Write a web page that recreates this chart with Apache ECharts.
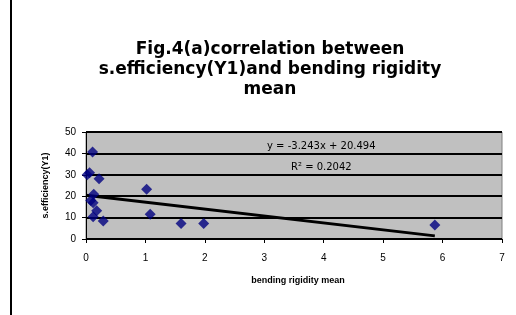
<!DOCTYPE html>
<html lang="en">
<head>
  <meta charset="UTF-8">
  <title>Fig.4(a)</title>
  <script src="https://cdn.jsdelivr.net/npm/echarts@6/dist/echarts.min.js"></script>
  <style>
    html, body { margin: 0; padding: 0; background: #fff; }
    #chart { width: 516px; height: 315px; }
  </style>
</head>
<body>
  <div id="chart"></div>
<script>
  // bending rigidity mean (x) vs s.efficiency(Y1) (y)
  var rigidity = [0.11, 0.02, 0.06, 0.22, 0.13, 0.08, 0.12, 0.18, 0.12, 0.29, 1.02, 1.08, 1.60, 1.98, 5.87]
  var efficiency = [40.6, 30.0, 31.0, 28.2, 20.9, 18.0, 16.9, 13.2, 10.4, 8.4, 23.3, 11.6, 7.3, 7.3, 6.5]
  var xTicks = [0, 1, 2, 3, 4, 5, 6, 7]
  var yTicks = [0, 10, 20, 30, 40, 50]
  // linear trendline from the chart
  var slope = -3.243
  var intercept = 20.494

  var points = rigidity.map(function (x, i) { return [x, efficiency[i]] })
  var xMax = Math.max.apply(null, rigidity)
  var trend = [[0, intercept], [xMax, slope * xMax + intercept]]

  var chart = echarts.init(document.getElementById('chart'))
  chart.setOption({
    animation: false,
    backgroundColor: '#fff',
    title: {
      text: 'Fig.4(a)correlation between\ns.efficiency(Y1)and bending rigidity\nmean',
      left: 265,
      top: 35,
      textAlign: 'center',
      textStyle: {
        fontFamily: 'DejaVu Sans',
        fontWeight: 'bold',
        fontSize: 17,
        lineHeight: 20,
        color: '#000'
      }
    },
    grid: { left: 86, right: 14, top: 132, bottom: 76, show: true, backgroundColor: '#c0c0c0', borderColor: '#808080', borderWidth: 1 },
    xAxis: {
      type: 'value',
      min: xTicks[0],
      max: xTicks[xTicks.length - 1],
      interval: 1,
      name: 'bending rigidity mean',
      nameLocation: 'middle',
      nameGap: 37,
      nameTextStyle: { fontFamily: 'Liberation Sans, Arial', fontWeight: 'bold', fontSize: 9, color: '#000', padding: [0, 0, 0, 8] },
      axisLine: { onZero: false, lineStyle: { color: '#000', width: 1 } },
      axisTick: { show: true, length: 4, inside: false, lineStyle: { color: '#000' } },
      axisLabel: { fontFamily: 'Liberation Sans, Arial', fontSize: 10, color: '#000', margin: 14 },
      splitLine: { show: false }
    },
    yAxis: {
      type: 'value',
      min: yTicks[0],
      max: yTicks[yTicks.length - 1],
      interval: 10,
      name: 's.efficiency(Y1)',
      nameLocation: 'middle',
      nameGap: 36,
      nameTextStyle: { fontFamily: 'Liberation Sans, Arial', fontWeight: 'bold', fontSize: 9, color: '#000' },
      axisLine: { show: true, lineStyle: { color: '#000', width: 1 } },
      axisTick: { show: true, length: 4, lineStyle: { color: '#000' } },
      axisLabel: { fontFamily: 'Liberation Sans, Arial', fontSize: 10, color: '#000', margin: 10 },
      splitLine: { show: true, lineStyle: { color: '#000', width: 2 } }
    },
    graphic: [
      { type: 'line', shape: { x1: 11, y1: 0, x2: 11, y2: 315 }, style: { stroke: '#000', lineWidth: 2 } },
      { type: 'text', left: 267, top: 141, style: { text: 'y = -3.243x + 20.494', font: '10px DejaVu Sans', fill: '#000' } },
      { type: 'text', left: 291, top: 162, style: { text: 'R² = 0.2042', font: '10px DejaVu Sans', fill: '#000' } }
    ],
    series: [
      {
        type: 'line',
        data: trend,
        symbol: 'none',
        lineStyle: { color: '#000', width: 3 },
        z: 3
      },
      {
        type: 'scatter',
        data: points,
        symbol: 'diamond',
        symbolSize: [11, 11],
        itemStyle: { color: '#000080' },
        z: 4
      }
    ]
  })
</script>
</body>
</html>
